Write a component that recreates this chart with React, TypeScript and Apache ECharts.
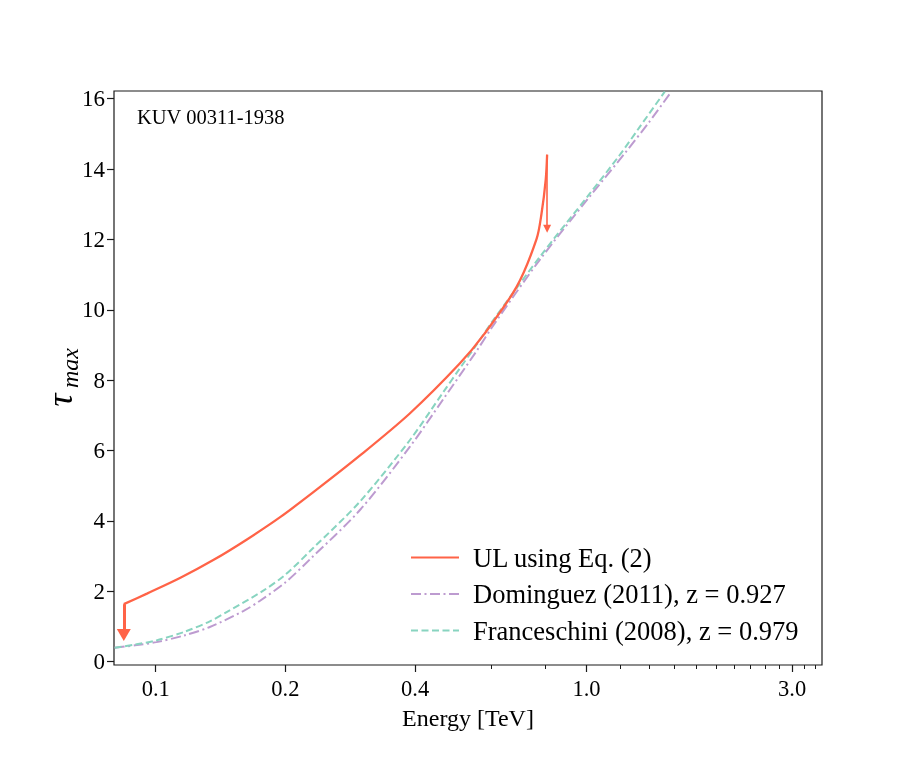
import React, { useEffect, useRef } from "react";
import * as echarts from "echarts";

// ---- data (energy in TeV, optical depth tau) ----
const ulEnergy = [0.0843, 0.0954, 0.1141, 0.1363, 0.1628, 0.1948, 0.2326, 0.2975, 0.3887, 0.5077, 0.578, 0.688, 0.765, 0.786, 0.804, 0.81];
const ulTau = [1.63, 1.93, 2.38, 2.89, 3.47, 4.11, 4.82, 5.85, 7.05, 8.47, 9.3, 10.65, 12.0, 12.73, 13.7, 14.41];

const domEnergy = [0.0803, 0.0895, 0.1004, 0.1164, 0.1335, 0.16, 0.1743, 0.2, 0.2278, 0.2975, 0.3887, 0.4645, 0.555, 0.607, 0.7787, 1.017, 1.227, 1.4, 1.56];
const domTau = [0.39, 0.46, 0.55, 0.74, 0.98, 1.44, 1.72, 2.25, 2.9, 4.3, 6.1, 7.45, 8.82, 9.55, 11.42, 13.22, 14.45, 15.35, 16.14];

const franEnergy = [0.0803, 0.0895, 0.1004, 0.1164, 0.1335, 0.1464, 0.178, 0.2, 0.2326, 0.2975, 0.3887, 0.4645, 0.5077, 0.555, 0.607, 0.7787, 1.017, 1.194, 1.329, 1.519];
const franTau = [0.39, 0.48, 0.6, 0.84, 1.14, 1.41, 2.02, 2.47, 3.24, 4.54, 6.29, 7.65, 8.33, 9.0, 9.7, 11.5, 13.3, 14.4, 15.2, 16.2];

// upper-limit arrows: energy, start tau, end tau
const arrowEnergy = [0.0843, 0.81];
const arrowFrom = [1.63, 14.41];
const arrowTo = [0.75, 12.3];

const seriesNames = ["UL using Eq. (2)", "Dominguez (2011), z = 0.927", "Franceschini (2008), z = 0.979"];

const xMajorTicks = [0.1, 0.2, 0.4, 1.0, 3.0];
const xMinorTicks = [0.6, 0.8, 1.2, 1.4, 1.6, 1.8, 2.0, 2.2, 2.4, 2.6, 2.8, 3.2, 3.4];
const yTicks = [0, 2, 4, 6, 8, 10, 12, 14, 16];
const xRange = [0.08, 3.52];
const yRange = [-0.1, 16.22];

const FONT = "Liberation Serif";
const RED = "#ff6347";
const PURPLE = "#bd9bd0";
const TEAL = "#88d4c0";
const INK = "#1a1a1a";

const lg = (v: number) => Math.log10(v);
const pairs = (xs: number[], ys: number[]) => xs.map((e, i) => [lg(e), ys[i]]);

export default function App() {
  const ref = useRef<HTMLDivElement>(null);
  useEffect(() => {
    if (!ref.current) return;
    const chart = echarts.init(ref.current, null, { renderer: "svg" });
    const xMin = lg(xRange[0]);
    const xMax = lg(xRange[1]);
    const option: any = {
      animation: false,
      grid: { left: 114, top: 91, right: 91, bottom: 96, show: true, borderColor: INK, borderWidth: 1.2 },
      xAxis: [
        {
          type: "value",
          min: xMin,
          max: xMax,
          position: "bottom",
          axisLine: { show: false, onZero: false },
          splitLine: { show: false },
          axisTick: { show: true, customValues: xMajorTicks.map(lg), length: 7, lineStyle: { color: INK, width: 1.2 } },
          axisLabel: {
            customValues: xMajorTicks.map(lg),
            formatter: (v: number) => Math.pow(10, v).toFixed(1),
            fontFamily: FONT,
            fontSize: 22.5,
            color: "#000",
            margin: 12,
          },
          name: "Energy [TeV]",
          nameLocation: "middle",
          nameGap: 41,
          nameTextStyle: { fontFamily: FONT, fontSize: 24, color: "#000" },
        },
        {
          type: "value",
          min: xMin,
          max: xMax,
          position: "bottom",
          offset: 0,
          axisLine: { show: false, onZero: false },
          splitLine: { show: false },
          axisTick: { show: true, customValues: xMinorTicks.map(lg), length: 4, lineStyle: { color: INK, width: 1 } },
          axisLabel: { show: false },
        },
      ],
      yAxis: {
        type: "value",
        min: yRange[0],
        max: yRange[1],
        axisLine: { show: false, onZero: false },
        splitLine: { show: false },
        axisTick: { show: true, customValues: yTicks, length: 7, lineStyle: { color: INK, width: 1.2 } },
        axisLabel: { customValues: yTicks, fontFamily: FONT, fontSize: 23, color: "#000", margin: 9 },
      },
      legend: {
        orient: "vertical",
        left: 405,
        top: 539,
        itemWidth: 48,
        itemHeight: 12,
        itemGap: 9.5,
        data: seriesNames,
        itemStyle: { opacity: 0 },
        textStyle: { fontFamily: FONT, fontSize: 26.5, color: "#000", lineHeight: 26, padding: [0, 0, 0, 9] },
      },
      series: [
        {
          name: seriesNames[0],
          type: "line",
          xAxisIndex: 0,
          data: pairs(ulEnergy, ulTau),
          symbol: "none",
          smooth: 0.3,
          lineStyle: { color: RED, width: 2.3 },
          itemStyle: { color: RED },
          z: 3,
          markLine: {
            silent: true,
            animation: false,
            symbol: ["none", "triangle"],
            label: { show: false },
            emphasis: { disabled: true },
            data: [
              [
                { coord: [lg(arrowEnergy[0]), arrowFrom[0]], lineStyle: { color: RED, width: 3, type: "solid" } },
                { coord: [lg(arrowEnergy[0]), arrowTo[0]], symbolSize: [14, 12] },
              ],
              [
                { coord: [lg(arrowEnergy[1]), arrowFrom[1]], lineStyle: { color: RED, width: 1.6, type: "solid" } },
                { coord: [lg(arrowEnergy[1]), arrowTo[1]], symbolSize: [8, 8] },
              ],
            ],
          },
        },
        {
          name: seriesNames[1],
          type: "line",
          xAxisIndex: 0,
          data: pairs(domEnergy, domTau),
          symbol: "none",
          smooth: 0.3,
          lineStyle: { color: PURPLE, width: 2, type: [10, 3.5, 2, 3.5] },
          itemStyle: { color: PURPLE },
          z: 2,
        },
        {
          name: seriesNames[2],
          type: "line",
          xAxisIndex: 0,
          data: pairs(franEnergy, franTau),
          symbol: "none",
          smooth: 0.3,
          lineStyle: { color: TEAL, width: 2, type: [7, 3.5] },
          itemStyle: { color: TEAL },
          z: 2,
        },
      ],
      graphic: [
        {
          type: "text",
          x: 137,
          y: 117,
          style: { text: "KUV 00311-1938", font: `20.5px "${FONT}"`, fill: "#000", textAlign: "left", textVerticalAlign: "middle" },
        },
        {
          type: "text",
          x: 60,
          y: 400,
          rotation: Math.PI / 2,
          style: { text: "τ", font: `italic 36px "${FONT}"`, fill: "#000", textAlign: "center", textVerticalAlign: "middle" },
        },
        {
          type: "text",
          x: 70,
          y: 368,
          rotation: Math.PI / 2,
          style: { text: "max", font: `italic 24px "${FONT}"`, fill: "#000", textAlign: "center", textVerticalAlign: "middle" },
        },
      ],
    };
    chart.setOption(option);
    return () => chart.dispose();
  }, []);
  return <div ref={ref} style={{ position: "fixed", left: 0, top: 0, width: 913, height: 761 }} />;
}
